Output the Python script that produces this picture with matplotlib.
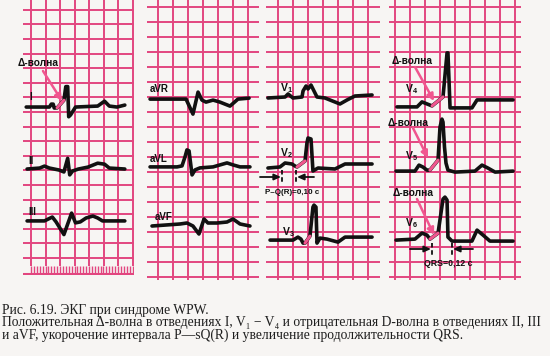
import matplotlib
matplotlib.use("Agg")
import matplotlib.pyplot as plt
from matplotlib.ticker import MultipleLocator
import numpy as np

plt.rcParams['mathtext.fontset'] = 'custom'
plt.rcParams['mathtext.rm'] = 'Liberation Serif'
plt.rcParams['mathtext.bf'] = 'Liberation Sans:bold'

W, H = 550, 356
PAPER = '#f7f5f3'
GRID = '#e2467f'
DELTA = '#f0568f'
INK = '#111111'

# ECG leads: time (s) from the first grid line of the panel, amplitude (mV) from the baseline
I_t = [-0.033, 0.127, 0.14, 0.153, 0.16, 0.18, 0.227, 0.24, 0.253, 0.26, 0.273, 0.307, 0.46, 0.507, 0.54, 0.593, 0.647]
I_v = [0, 0, 0.1, 0.1, -0.033, -0.03, 0.233, 0.7, 0.7, -0.333, -0.27, 0, 0.033, 0.2, 0.033, 0, 0.067]
II_t = [-0.027, 0.06, 0.093, 0.127, 0.193, 0.227, 0.253, 0.267, 0.287, 0.327, 0.393, 0.46, 0.507, 0.54, 0.647]
II_v = [-0.033, 0, 0.067, 0, -0.067, -0.133, 0.333, -0.233, -0.1, -0.033, 0.033, 0.167, 0.133, 0, -0.033]
III_t = [-0.027, 0.093, 0.147, 0.173, 0.2, 0.227, 0.28, 0.307, 0.34, 0.38, 0.427, 0.46, 0.493, 0.647]
III_v = [0, 0, 0.133, -0.033, -0.25, -0.467, 0.267, -0.067, -0.033, 0.1, 0.167, 0.1, 0, 0]

aVR_t = [-0.053, 0.187, 0.233, 0.267, 0.293, 0.32, 0.367, 0.413, 0.48, 0.533, 0.607]
aVR_v = [0, 0, -0.5, 0.233, -0.033, -0.1, -0.033, -0.1, -0.233, 0, 0.033]
aVL_t = [-0.053, 0.127, 0.16, 0.18, 0.193, 0.207, 0.227, 0.247, 0.28, 0.367, 0.46, 0.5, 0.547, 0.613]
aVL_v = [0, 0, 0.033, 0.333, 0.567, 0.533, -0.267, -0.1, -0.033, 0, 0.133, 0.067, 0, 0]
aVF_t = [-0.04, 0.147, 0.193, 0.233, 0.273, 0.307, 0.333, 0.393, 0.46, 0.5, 0.547, 0.613]
aVF_v = [0, 0.067, 0.1, 0, -0.267, 0.233, 0.1, 0.1, 0.133, 0.233, 0.067, 0]

V1_t = [-0.067, 0.047, 0.067, 0.1, 0.16, 0.167, 0.187, 0.2, 0.22, 0.26, 0.313, 0.413, 0.46, 0.513, 0.627]
V1_v = [-0.033, 0, 0.1, -0.033, 0, 0.2, 0.367, 0.267, 0.4, 0, -0.033, -0.233, -0.1, 0.033, 0.067]
V2_t = [-0.067, 0.013, 0.047, 0.093, 0.113, 0.127, 0.18, 0.193, 0.2, 0.22, 0.233, 0.267, 0.38, 0.447, 0.627]
V2_v = [-0.067, -0.033, 0.1, 0.067, 0, -0.033, 0.167, 0.767, 0.933, 0.9, -0.167, -0.067, -0.1, 0.067, 0.067]
V3_t = [-0.053, 0.1, 0.133, 0.153, 0.167, 0.18, 0.213, 0.233, 0.24, 0.253, 0.26, 0.28, 0.327, 0.4, 0.447, 0.627]
V3_v = [0, 0, 0.1, 0.033, -0.1, -0.1, 0.133, 1.1, 1.167, 1.1, -0.1, 0.067, 0.033, -0.067, 0.1, 0.1]

V4_t = [0.013, 0.147, 0.18, 0.213, 0.247, 0.32, 0.347, 0.353, 0.367, 0.513, 0.547, 0.787]
V4_v = [0, 0, 0.167, 0.1, 0.033, 0.333, 1.8, 1.8, -0.033, -0.033, 0.233, 0.233]
V5_t = [0.007, 0.133, 0.16, 0.187, 0.213, 0.233, 0.287, 0.3, 0.313, 0.32, 0.33, 0.34, 0.353, 0.4, 0.533, 0.58, 0.62, 0.667, 0.787]
V5_v = [0, 0, 0.2, 0.133, 0.033, 0.033, 0.367, 1.467, 1.733, 1.633, 0.8, 0.267, 0.033, -0.033, 0, 0.2, 0.1, -0.033, 0]
V6_t = [0.007, 0.133, 0.18, 0.213, 0.233, 0.287, 0.32, 0.333, 0.347, 0.353, 0.38, 0.513, 0.547, 0.587, 0.633, 0.787]
V6_v = [0, 0.033, 0.233, 0.167, 0.033, 0.233, 1.367, 1.433, 1.333, 0.1, -0.033, -0.033, 0.333, 0.167, -0.033, -0.033]

# delta-wave segments (pink)
I_delta = ([0.18, 0.227], [-0.03, 0.233])
V2_delta = ([0.127, 0.18], [-0.033, 0.167])
V3_delta = ([0.18, 0.213], [-0.1, 0.133])
V4_delta = ([0.247, 0.32], [0.033, 0.333])
V5_delta = ([0.233, 0.287], [0.033, 0.367])
V6_delta = ([0.233, 0.287], [0.033, 0.233])

fig = plt.figure(figsize=(W / 100, H / 100), dpi=100)
fig.patch.set_facecolor(PAPER)


def panel(left, top, right, bottom, gx0, gy0, sx, sy):
    ax = fig.add_axes([left / W, 1 - bottom / H, (right - left) / W, (bottom - top) / H])
    ax.set_xlim((left - gx0) / sx * 0.1, (right - gx0) / sx * 0.1)
    ax.set_ylim((gy0 - bottom) / sy * 0.5, (gy0 - top) / sy * 0.5)
    ax.xaxis.set_major_locator(MultipleLocator(0.1))
    ax.yaxis.set_major_locator(MultipleLocator(0.5))
    ax.grid(True, color=GRID, lw=1.4)
    ax.tick_params(length=0, labelbottom=False, labelleft=False)
    for s in ax.spines.values():
        s.set_visible(False)
    ax.set_facecolor('none')
    return ax


def lead(ax, t, v, base, delta=None):
    ax.plot(t, np.array(v) + base, color=INK, lw=2.6, solid_joinstyle='round', solid_capstyle='round')
    if delta is not None:
        ax.plot(delta[0], np.array(delta[1]) + base, color=DELTA, lw=2.2, solid_capstyle='round')


ax1 = panel(23, 0, 134, 266, 31, 258, 14.5, 14.6)
ax2 = panel(147, 0, 259, 280, 158, 277, 15, 15)
ax3 = panel(266, 0, 380, 280, 278, 277, 15, 15)
ax4 = panel(389, 0, 521, 280, 395, 277, 15, 15)

lead(ax1, I_t, I_v, 5.17, I_delta)
lead(ax1, II_t, II_v, 3.08)
lead(ax1, III_t, III_v, 1.27)
lead(ax2, aVR_t, aVR_v, 5.93)
lead(ax2, aVL_t, aVL_v, 3.67)
lead(ax2, aVF_t, aVF_v, 1.70)
lead(ax3, V1_t, V1_v, 6.0)
lead(ax3, V2_t, V2_v, 3.7, V2_delta)
lead(ax3, V3_t, V3_v, 1.23, V3_delta)
lead(ax4, V4_t, V4_v, 5.67, V4_delta)
lead(ax4, V5_t, V5_v, 3.53, V5_delta)
lead(ax4, V6_t, V6_v, 1.23, V6_delta)

# time ruler under the first panel
axr = fig.add_axes([23 / W, 1 - 275 / H, 111 / W, 9 / H])
axr.set_xlim(ax1.get_xlim())
axr.set_ylim(0, 1)
axr.vlines(np.arange(0, 0.71, 0.02), 0.15, 1, color=GRID, lw=1.0)
axr.axhline(0.12, color=GRID, lw=2.2)
axr.axis('off')


def fx(x, y):
    return x / W, 1 - y / H


lab = dict(fontfamily='Liberation Sans', fontweight='bold', fontsize=7, color=INK, va='center')
for txt, x, y in [('I', 29, 97), ('II', 28, 161), ('III', 28, 212),
                  ('aVR', 150, 89), ('aVL', 150, 159), ('aVF', 155, 217)]:
    fig.text(*fx(x, y), txt, **lab)

for n, x, y in [(1, 280, 88), (2, 280, 153), (3, 282, 232), (4, 405, 89), (5, 405, 156), (6, 405, 223)]:
    fig.text(*fx(x, y), r'$\mathbf{V}_{\mathbf{%d}}$' % n, fontsize=7.5, color=INK, va='center')

# delta-wave labels with arrows
for (tx, ty), (ax_, ay_), (bx, by) in [((18, 63), (43, 71), (62, 101)),
                                      ((392, 61), (415, 67), (434, 101)),
                                      ((388, 123), (413, 128), (428, 158)),
                                      ((393, 193), (417, 199), (434, 235))]:
    fig.text(*fx(tx, ty), 'Δ-волна', fontfamily='Liberation Sans', fontweight='bold',
             fontsize=7.3, color=INK, va='center')
    fig.add_artist(matplotlib.patches.FancyArrowPatch(
        (ax_, H - ay_), (bx, H - by), transform=None, arrowstyle='-|>,head_length=4,head_width=2',
        color=DELTA, lw=1.8, shrinkA=0, shrinkB=0))


# interval markers
def marker(x1, x2, y_top, y_bot, y_arr, left_from, right_from):
    for x in (x1, x2):
        fig.add_artist(matplotlib.lines.Line2D([x / W, x / W], [1 - y_top / H, 1 - y_bot / H],
                                               color=INK, lw=1.3, ls=(0, (2.5, 1.5))))
    for a, b in [(left_from, x1 - 1), (right_from, x2 + 1)]:
        fig.add_artist(matplotlib.patches.FancyArrowPatch(
            (a, H - y_arr), (b, H - y_arr), transform=None,
            arrowstyle='-|>,head_length=4,head_width=1.8', color=INK, lw=1.3, shrinkA=0, shrinkB=0))


marker(282, 296, 170, 184, 177, 260, 314)
fig.text(*fx(292, 192), 'P–Q(R)=0,10 c', fontfamily='Liberation Sans', fontweight='bold',
         fontsize=5.8, color=INK, ha='center', va='center')
marker(432, 452, 243, 257, 249, 410, 473)
fig.text(*fx(448, 264), 'QRS=0,12 c', fontfamily='Liberation Sans', fontweight='bold',
         fontsize=6.3, color=INK, ha='center', va='center')

# caption
caption = ('Рис. 6.19. ЭКГ при синдроме WPW.\n'
           'Положительная Δ-волна в отведениях I, V₁ − V₄ и отрицательная D-волна в отведениях II, III\n'
           'и aVF, укорочение интервала P—sQ(R) и увеличение продолжительности QRS.')
fig.text(*fx(2, 323), caption, fontfamily=['Liberation Serif', 'DejaVu Serif'], fontsize=9.8,
         color='#1e1e1e', va='center', ha='left', linespacing=0.95)

fig.savefig('out.png', dpi=100, facecolor=PAPER)
